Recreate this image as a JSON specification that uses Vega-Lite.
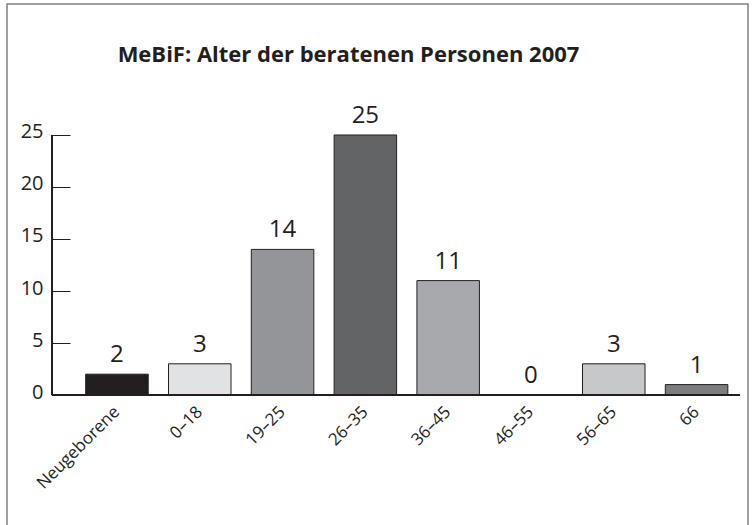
{
  "$schema": "https://vega.github.io/schema/vega-lite/v6.json",
  "autosize": {"type": "none"},
  "padding": {"left": 7, "top": 4, "right": 6, "bottom": 0},
  "width": 741,
  "height": 522,
  "background": "white",
  "config": {
    "font": "Open Sans",
    "view": {"stroke": "#808080", "strokeWidth": 1.5},
    "axis": {"labelFont": "Open Sans", "labelColor": "#231f20"}
  },
  "title": {
    "text": "MeBiF: Alter der beratenen Personen 2007",
    "font": "Open Sans",
    "fontSize": 22,
    "fontWeight": "bold",
    "color": "#231f20",
    "anchor": "middle",
    "frame": "group",
    "baseline": "alphabetic",
    "offset": -58,
    "dx": -29,
    "dy": 22
  },
  "data": {
    "values": [
      {"Alter": "Neugeborene", "Anzahl": 2},
      {"Alter": "0–18", "Anzahl": 3},
      {"Alter": "19–25", "Anzahl": 14},
      {"Alter": "26–35", "Anzahl": 25},
      {"Alter": "36–45", "Anzahl": 11},
      {"Alter": "46–55", "Anzahl": 0},
      {"Alter": "56–65", "Anzahl": 3},
      {"Alter": "66", "Anzahl": 1}
    ]
  },
  "encoding": {
    "x": {
      "field": "Alter",
      "type": "nominal",
      "sort": null,
      "title": null,
      "scale": {"paddingInner": 0.245, "paddingOuter": 0.597, "align": 0.796},
      "axis": {
        "orient": "bottom",
        "offset": -131,
        "domain": false,
        "ticks": false,
        "labelAngle": -45,
        "labelAlign": "right",
        "labelBaseline": "middle",
        "labelPadding": 14,
        "labelFontSize": 17
      }
    },
    "y": {
      "field": "Anzahl",
      "type": "quantitative",
      "title": null,
      "scale": {"domain": [-12.596, 37.596], "nice": false, "zero": false},
      "axis": {
        "values": [0, 5, 10, 15, 20, 25],
        "offset": -45,
        "domain": false,
        "grid": false,
        "tickSize": -18,
        "tickColor": "#231f20",
        "tickWidth": 1,
        "labelPadding": 27,
        "labelFontSize": 20,
        "labelBaseline": "middle",
        "labelOffset": -3
      }
    }
  },
  "layer": [
    {
      "mark": {"type": "bar", "stroke": "#231f20", "strokeWidth": 1, "orient": "vertical"},
      "encoding": {
        "y": {"field": "Anzahl", "type": "quantitative"},
        "y2": {"datum": 0},
        "color": {
          "field": "Alter",
          "type": "nominal",
          "legend": null,
          "scale": {
            "domain": ["Neugeborene", "0–18", "19–25", "26–35", "36–45", "46–55", "56–65", "66"],
            "range": ["#231f20", "#e1e2e3", "#939598", "#636466", "#a7a9ac", "#6d6e71", "#c7c8ca", "#7c7d80"]
          }
        }
      }
    },
    {
      "mark": {"type": "text", "baseline": "alphabetic", "dy": -12, "fontSize": 24, "color": "#231f20", "font": "Open Sans"},
      "encoding": {
        "text": {"field": "Anzahl", "type": "quantitative"}
      }
    },
    {
      "mark": {"type": "rule", "color": "#231f20", "strokeWidth": 1},
      "encoding": {
        "x": {"datum": "Neugeborene", "bandPosition": -0.54},
        "x2": {"datum": "66", "bandPosition": 1.194},
        "y": {"datum": 0},
        "y2": null
      }
    },
    {
      "mark": {"type": "rule", "color": "#231f20", "strokeWidth": 1},
      "encoding": {
        "x": {"datum": "Neugeborene", "bandPosition": -0.54},
        "y": {"datum": 0},
        "y2": {"datum": 25}
      }
    }
  ]
}
